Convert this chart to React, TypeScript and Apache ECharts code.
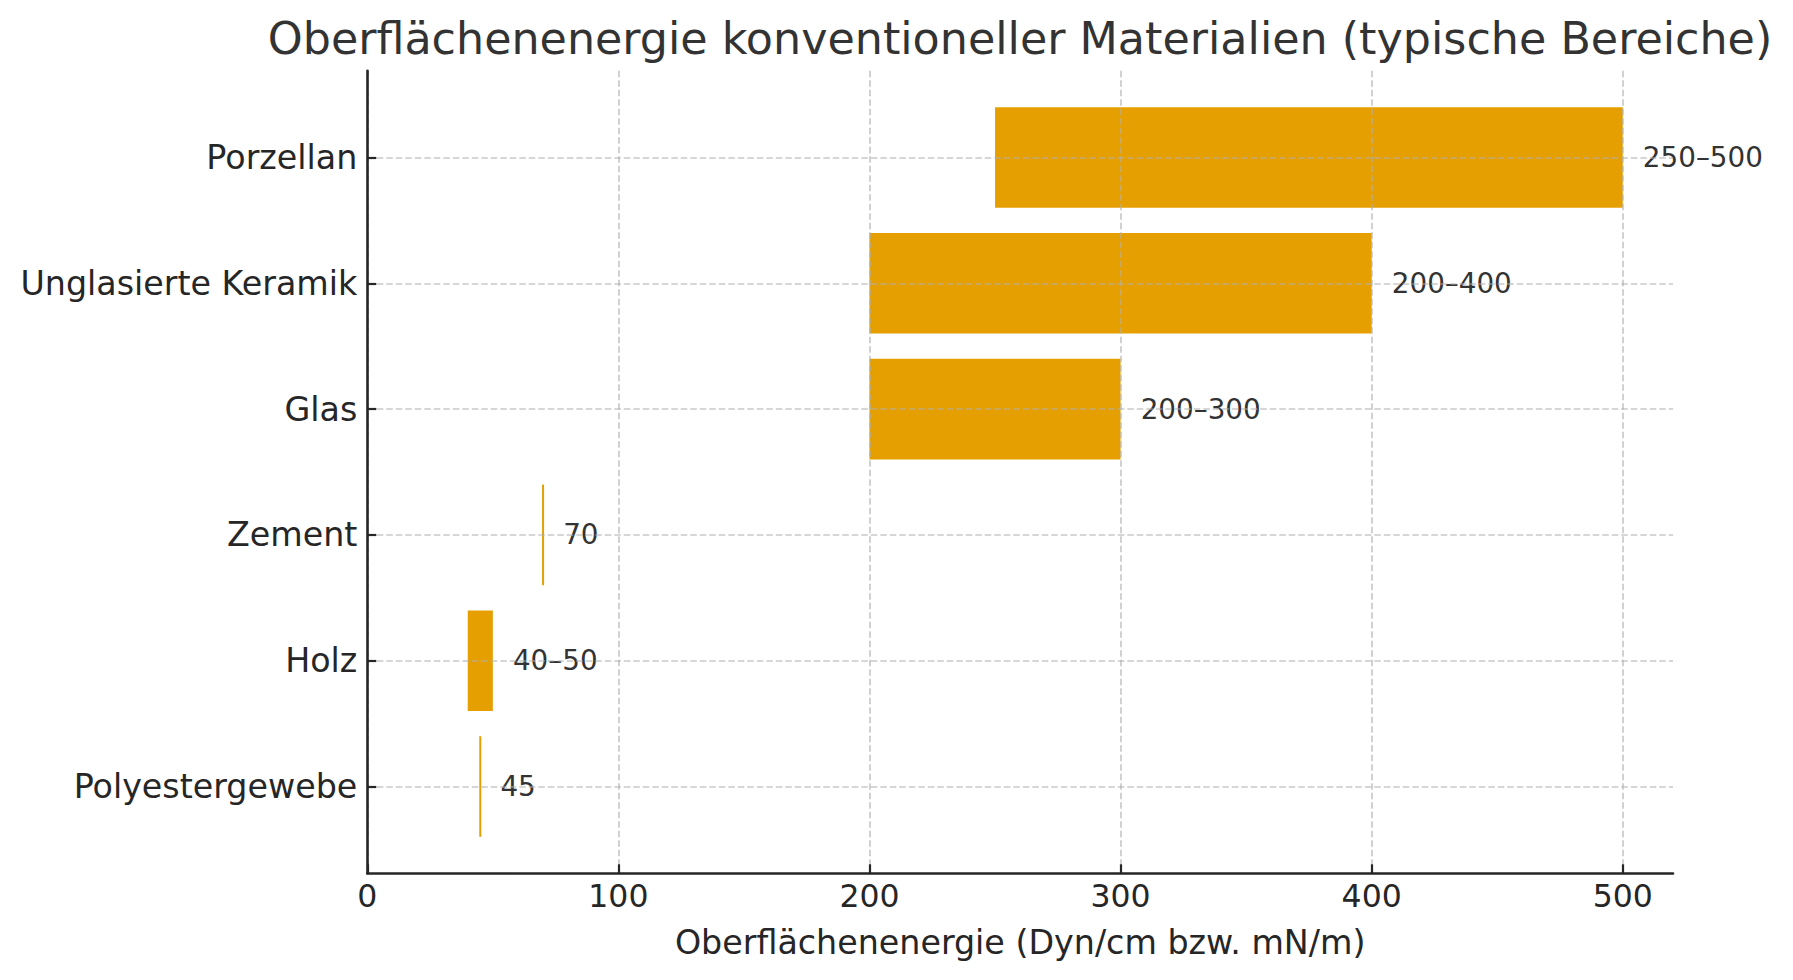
import { useEffect, useRef } from "react";
import * as echarts from "echarts";

// Typical surface energy ranges, top to bottom as drawn.
const MATERIALS = ["Porzellan", "Unglasierte Keramik", "Glas", "Zement", "Holz", "Polyestergewebe"];
const RANGE_LOW = [250, 200, 200, 70, 40, 45];
const RANGE_HIGH = [500, 400, 300, 70, 50, 45];
const RANGE_LABELS = ["250–500", "200–400", "200–300", "70", "40–50", "45"];
const X_TICKS = [0, 100, 200, 300, 400, 500];
const Y_TICKS = [0, 1, 2, 3, 4, 5];

const FONT = "DejaVu Sans";
const INK = "#262626";
const BAR = "#E69F00";
const GRID = { color: "rgba(176,176,176,0.68)", width: 1.7, type: [6.5, 3] as number[] };

export default function App() {
  const chartRef = useRef<HTMLDivElement>(null);

  useEffect(() => {
    document.body.style.margin = "0";
    if (!chartRef.current) return;
    const chart = echarts.init(chartRef.current, null, { renderer: "svg" });

    const data = MATERIALS.map((_, i) => [i, RANGE_LOW[i], RANGE_HIGH[i]]);

    chart.setOption({
      animation: false,
      backgroundColor: "#ffffff",
      title: {
        text: "Oberflächenenergie konventioneller Materialien (typische Bereiche)",
        left: 1020,
        top: 16,
        padding: 0,
        textAlign: "center",
        textStyle: { fontFamily: FONT, fontSize: 44.4, fontWeight: "normal", color: "#333333" },
      },
      grid: { left: 367.3, right: 120, top: 70.7, bottom: 106.7 },
      xAxis: {
        type: "value",
        min: 0,
        max: 520,
        interval: 100,
        z: 5,
        name: "Oberflächenenergie (Dyn/cm bzw. mN/m)",
        nameLocation: "middle",
        nameGap: 53,
        nameTextStyle: { fontFamily: FONT, fontSize: 33.3, color: INK },
        axisLine: { show: true, onZero: false, lineStyle: { color: INK, width: 2.6 } },
        axisTick: { show: true, inside: true, length: 9, lineStyle: { color: INK, width: 2.2 }, customValues: X_TICKS },
        axisLabel: { fontFamily: FONT, fontSize: 31.5, color: INK, margin: 7, customValues: X_TICKS },
        splitLine: { show: true, lineStyle: GRID },
      },
      yAxis: {
        type: "value",
        inverse: true,
        min: -0.69,
        max: 5.69,
        splitNumber: 6,
        z: 5,
        axisLine: { show: true, onZero: false, lineStyle: { color: INK, width: 2.6 } },
        axisTick: { show: true, inside: true, length: 9, lineStyle: { color: INK, width: 2.2 }, customValues: Y_TICKS },
        axisLabel: {
          fontFamily: FONT,
          fontSize: 33.3,
          color: INK,
          margin: 10,
          customValues: Y_TICKS,
          formatter: (v: number) => MATERIALS[Math.round(v)] ?? "",
        },
        splitLine: { show: true, lineStyle: GRID },
      },
      series: [
        {
          type: "custom",
          z: 1,
          data,
          encode: { x: [1, 2], y: 0 },
          renderItem: (_params: any, api: any) => {
            const idx = api.value(0);
            const lo = api.value(1);
            const hi = api.value(2);
            const p0 = api.coord([lo, idx]);
            const p1 = api.coord([hi, idx]);
            const h = api.size([0, 0.8])[1];
            let w = p1[0] - p0[0];
            let x = p0[0];
            if (w < 2) { x -= 1; w = 2; }
            const labelX = api.coord([hi + 8, idx])[0];
            return {
              type: "group",
              children: [
                { type: "rect", shape: { x, y: p0[1] - h / 2, width: w, height: h }, style: { fill: BAR } },
                {
                  type: "text",
                  x: labelX,
                  y: p0[1],
                  style: {
                    text: RANGE_LABELS[idx],
                    fill: "#333333",
                    fontFamily: FONT,
                    fontSize: 27.8,
                    align: "left",
                    verticalAlign: "middle",
                  },
                },
              ],
            };
          },
        },
      ],
    });

    return () => chart.dispose();
  }, []);

  return <div ref={chartRef} style={{ width: 1793, height: 980 }} />;
}
